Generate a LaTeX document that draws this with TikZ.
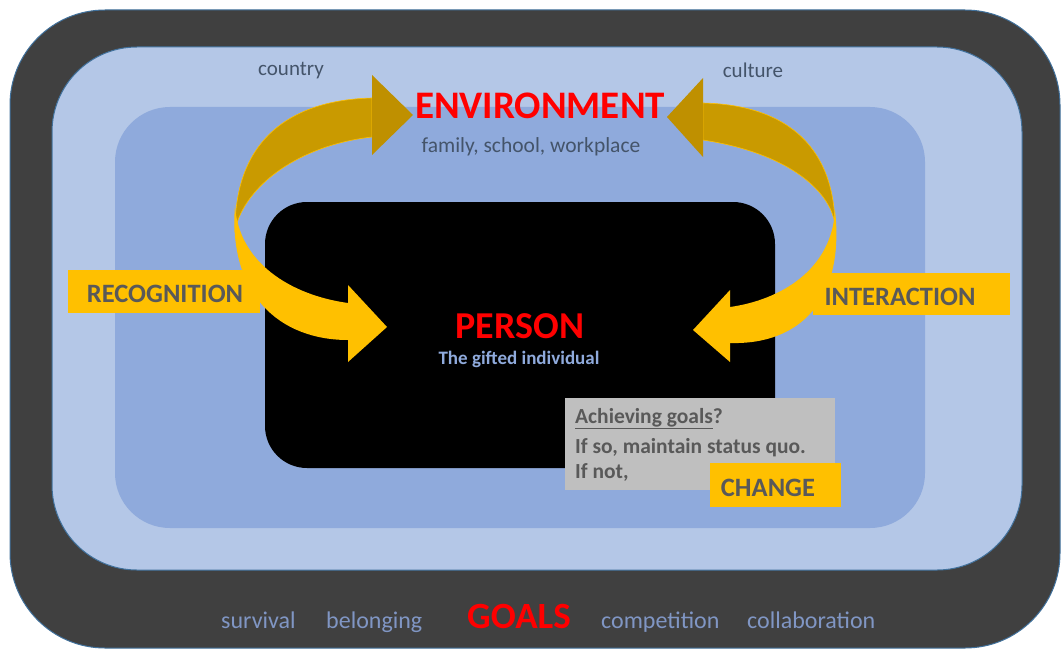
\documentclass[tikz,border=0pt]{standalone}
\usepackage{fontspec}
\setmainfont{Carlito}
\begin{document}
\begin{tikzpicture}[x=1pt,y=-1pt]
  \definecolor{frame}{HTML}{404040}
  \definecolor{edgeblue}{HTML}{41719C}
  \definecolor{ringlight}{HTML}{B4C7E7}
  \definecolor{ringmid}{HTML}{8FAADC}
  \definecolor{gold}{HTML}{FFC000}
  \definecolor{golddark}{HTML}{C99A00}
  \definecolor{goldhead}{HTML}{BF9000}
  \definecolor{navytext}{HTML}{44546A}
  \definecolor{greytext}{HTML}{595959}
  \definecolor{goaltext}{RGB}{128,150,196}
  \definecolor{notebox}{HTML}{BFBFBF}
  \tikzset{
    sz/.style={font=\fontsize{#1}{#1}\selectfont},
    labelbox/.style={fill=gold, text=greytext, font=\bfseries\fontsize{26.5}{28}\selectfont},
    goalword/.style={anchor=base west, text=goaltext, inner sep=0pt, sz=24},
    keyword/.style={anchor=base, text=red, inner sep=0pt, font=\bfseries\fontsize{#1}{#1}\selectfont},
    notetext/.style={anchor=base west, inner sep=0pt, text=greytext, font=\bfseries\fontsize{21.5}{22}\selectfont},
  }
  \useasboundingbox (0,0) rectangle (1062,650);

  % nested rounded frames
  \filldraw[fill=frame, draw=edgeblue, line width=1pt, rounded corners=95] (10,10) rectangle (1060,648);
  \filldraw[fill=ringlight, draw=edgeblue, line width=1pt, rounded corners=85] (52,47) rectangle (1022,570);
  \fill[ringmid, rounded corners=55] (115,107) rectangle (925,528);
  \fill[black, rounded corners=42] (265,202) rectangle (775,468);

  % left circular arrow: back side (top) and front side (bottom)
  \filldraw[fill=golddark, draw=gold, line width=0.6pt]
    (372,98) .. controls (290,100) and (235,140) .. (235,230)
    .. controls (245,185) and (300,145) .. (372,137) -- cycle;
  \fill[goldhead] (372,75) -- (413,115) -- (372,155) -- cycle;
  \fill[gold]
    (235,205) .. controls (228,295) and (280,340) .. (348,340)
    -- (348,303) .. controls (290,295) and (238,262) .. (235,205) -- cycle;
  \fill[gold] (348,285) -- (387,327) -- (348,362) -- cycle;

  % right circular arrow
  \filldraw[fill=golddark, draw=gold, line width=0.6pt]
    (703,103) .. controls (790,105) and (835,150) .. (835,228)
    .. controls (835,200) and (800,155) .. (703,140) -- cycle;
  \fill[goldhead] (703,78) -- (667,117) -- (703,157) -- cycle;
  \fill[gold]
    (835,210) .. controls (845,300) and (800,345) .. (730,343)
    -- (730,307) .. controls (780,300) and (832,270) .. (835,210) -- cycle;
  \fill[gold] (730,290) -- (693,330) -- (730,362) -- cycle;

  % environment labels
  \node[text=navytext, sz=21] (country) at (291,71) {country};
  \node[text=navytext, sz=21] (culture) at (753,70) {culture};
  \node[keyword=39] (env) at (540,118) {ENVIRONMENT};
  \node[anchor=base, inner sep=0pt, text=navytext, sz=21.5] (envsub) at (531,153) {family, school, workplace};

  % person
  \node[keyword=38] (person) at (520,338) {PERSON};
  \node[anchor=base, inner sep=0pt, text=ringmid, font=\bfseries\fontsize{19}{20}\selectfont] (personsub) at (519,364) {The gifted individual};

  % side labels
  \fill[gold] (68,270) rectangle (260,313);
  \node[anchor=base, inner sep=0pt, text=greytext, font=\bfseries\fontsize{26.5}{28}\selectfont] (recog) at (165,302) {RECOGNITION};
  \fill[gold] (813,273) rectangle (1010,315);
  \node[anchor=base, inner sep=0pt, text=greytext, font=\bfseries\fontsize{26.5}{28}\selectfont] (inter) at (900,305) {INTERACTION};

  % goal check note
  \fill[notebox] (565,398) rectangle (835,490);
  \node[notetext] (q1) at (575,423) {\underline{Achieving goals}?};
  \node[notetext] (q2) at (575,453) {If so, maintain status quo.};
  \node[notetext] (q3) at (575,478) {If not,};
  \fill[gold] (710,463) rectangle (841,507);
  \node[anchor=base, inner sep=0pt, text=greytext, font=\bfseries\fontsize{26.5}{28}\selectfont] (change) at (768,496) {CHANGE};

  % goals row
  \node[goalword] (g1) at (221,628) {survival};
  \node[goalword] (g2) at (326,628) {belonging};
  \node[keyword=37, anchor=base west] (goals) at (467,628) {GOALS};
  \node[goalword] (g3) at (601,628) {competition};
  \node[goalword] (g4) at (747,628) {collaboration};
\end{tikzpicture}
\end{document}
